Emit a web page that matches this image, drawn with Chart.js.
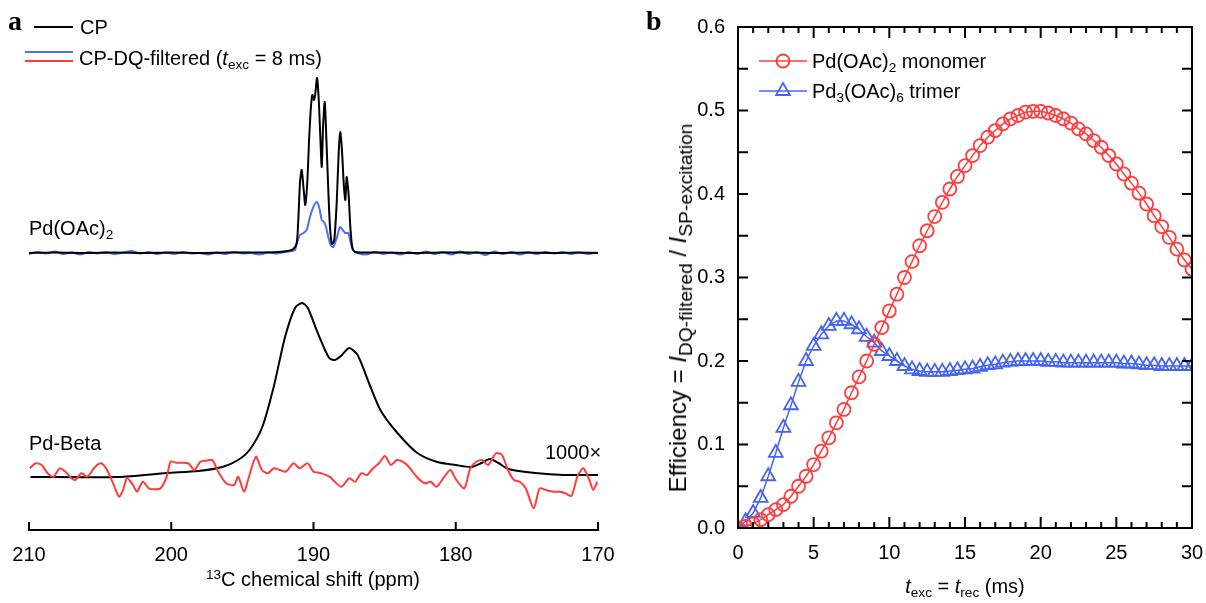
<!DOCTYPE html>
<html>
<head>
<meta charset="utf-8">
<script src="https://cdn.jsdelivr.net/npm/chart.js@4.4.0/dist/chart.umd.min.js"></script>
<style>
  body { margin: 0; background: #fff; }
  #wrap { position: relative; width: 1206px; height: 603px; overflow: hidden;
          font-family: "Liberation Sans", Arial, sans-serif; font-size: 20px; color: #000; }
  canvas { position: absolute; top: 0; }
  .lbl { position: absolute; white-space: nowrap; line-height: 20px; }
  .lbl sub { font-size: 0.68em; vertical-align: -0.3em; line-height: 0; }
  .lbl sup { font-size: 0.68em; vertical-align: 0.55em; line-height: 0; }
  .ytitle { font-size: 24px; line-height: 24px; }
  .ytitle sub { font-size: 0.8em; }
  .panel { position: absolute; font-family: "Liberation Serif", "Times New Roman", serif;
           font-weight: bold; font-size: 28px; line-height: 28px; }
  .bar { position: absolute; height: 2px; }
</style>
</head>
<body>
<div id="wrap">
  <canvas id="spectra" width="620" height="603" style="left:0"></canvas>
  <canvas id="efficiency" width="586" height="603" style="left:620px"></canvas>

  <!-- panel a labels -->
  <div class="panel" style="left:8px;top:7px">a</div>
  <div class="bar" style="left:34px;top:26px;width:39px;background:#000"></div>
  <div class="lbl" style="left:80px;top:17px">CP</div>
  <div class="bar" style="left:25px;top:51px;width:48px;background:#4f6ef7"></div>
  <div class="bar" style="left:25px;top:60px;width:48px;background:#ff3c3c"></div>
  <div class="lbl" style="left:79px;top:48px">CP-DQ-filtered (<i>t</i><sub>exc</sub> = 8 ms)</div>
  <div class="lbl" style="left:29px;top:218px">Pd(OAc)<sub>2</sub></div>
  <div class="lbl" style="left:29px;top:433px">Pd-Beta</div>
  <div class="lbl" style="left:545px;top:442px">1000×</div>
  <div class="lbl" style="left:113px;top:569px;width:400px;text-align:center"><sup>13</sup>C chemical shift (ppm)</div>

  <!-- panel b labels -->
  <div class="panel" style="left:646px;top:7px">b</div>
  <svg style="position:absolute;left:757px;top:51px" width="52" height="20">
    <line x1="2" y1="10" x2="50" y2="10" stroke="#ff3c3c" stroke-width="1.5"/>
    <circle cx="26" cy="10" r="6.5" fill="none" stroke="#ff3c3c" stroke-width="1.8"/>
  </svg>
  <div class="lbl" style="left:812px;top:51px">Pd(OAc)<sub>2</sub> monomer</div>
  <svg style="position:absolute;left:757px;top:81px" width="52" height="20">
    <line x1="2" y1="10" x2="50" y2="10" stroke="#4664f0" stroke-width="1.5"/>
    <polygon points="26,2 32.9,14 19.1,14" fill="none" stroke="#4664f0" stroke-width="1.8"/>
  </svg>
  <div class="lbl" style="left:812px;top:81px">Pd<sub>3</sub>(OAc)<sub>6</sub> trimer</div>
  <div class="lbl ytitle" style="left:678px;top:308px;transform:translate(-50%,-50%) rotate(-90deg)">Efficiency = <i>I</i><sub>DQ-filtered</sub> / <i>I</i><sub>SP-excitation</sub></div>
  <div class="lbl" style="left:765px;top:576px;width:400px;text-align:center"><i>t</i><sub>exc</sub> = <i>t</i><sub>rec</sub> (ms)</div>
</div>

<script>
// ---------- panel a : 13C spectra (ppm, stacked intensity in arbitrary units) ----------
const pdOAcCpPpm = [210, 208, 206, 204, 202, 200, 198, 196, 194, 192.5, 191.8, 191.42, 191.18, 191.07, 190.95,
  190.83, 190.67, 190.58, 190.44, 190.30, 190.18, 190.08, 189.96, 189.87, 189.75, 189.63, 189.52, 189.42,
  189.33, 189.21, 189.10, 188.96, 188.84, 188.70, 188.54, 188.37, 188.23, 188.12, 188.00, 187.86, 187.76,
  187.67, 187.53, 187.41, 187.27, 187.08, 186.5, 185, 183, 181, 179, 177, 175, 173, 171.5, 170];
const pdOAcCpInt = [277, 277.5, 277, 277.5, 277, 277.5, 277, 277.5, 277.5, 278, 279, 281, 287, 310, 347,
  360, 337, 325, 347, 393, 423, 435, 430, 437, 452, 430, 393, 363,
  403, 428, 393, 340, 303, 286, 290, 327, 377, 398, 380, 343, 330,
  353, 335, 303, 282, 278, 277.5, 277.5, 277, 277.5, 277.5, 277, 277.5, 277, 277.5, 277];

const pdOAcDqPpm = [210, 209.4, 208.8, 208.2, 207.6, 207, 206.4, 205.8, 205.2, 204.6, 204, 203.4, 202.8, 202.2,
  201.6, 201, 200.4, 199.8, 199.2, 198.6, 198, 197.4, 196.8, 196.2, 195.6, 195, 194.4, 193.8, 193.2, 192.6,
  192, 191.5, 191.3, 191.16, 190.95, 190.72, 190.48, 190.25, 190.01, 189.78, 189.59, 189.42, 189.26, 189.12,
  188.96, 188.79, 188.61, 188.37, 188.14, 187.95, 187.76, 187.55, 187.38, 187.2, 186.9, 186.3, 185.7, 185.1,
  184.5, 183.9, 183.3, 182.7, 182.1, 181.5, 180.9, 180.3, 179.7, 179.1, 178.5, 177.9, 177.3, 176.7, 176.1,
  175.5, 174.9, 174.3, 173.7, 173.1, 172.5, 171.9, 171.3, 170.7, 170.1];
const pdOAcDqInt = [276, 278, 276.5, 278.5, 276, 277.5, 275.5, 278, 276.5, 278, 276, 277.5, 279, 276.5,
  278, 276, 277.5, 276, 278, 276.5, 277, 275.5, 277.5, 276, 278, 276.5, 277, 275.5, 277.5, 276.5,
  278, 279, 280, 287, 295, 296.7, 300, 313, 323, 328, 322, 310, 308, 303,
  293, 285, 283, 292, 303, 300, 297, 297, 287, 280, 277, 275.5, 278, 276,
  277.5, 275.5, 278, 276, 278.5, 276, 278, 275.5, 278.5, 276, 278, 275, 278.5, 276, 278,
  275.5, 277.5, 276, 278, 276.5, 278, 276, 277.5, 276, 277.5];

const pdBetaCpPpm = [209.9, 203.7, 200.3, 198.1, 196.4, 195.3, 194.5, 193.6, 192.8, 192.0, 191.3, 190.8, 190.4,
  189.7, 188.9, 188.5, 188.0, 187.5, 186.9, 186.1, 185.3, 184.1, 182.7, 181.3, 180.0, 178.9, 178.2, 177.6,
  177.0, 176.3, 174.4, 172.4, 170.0];
const pdBetaCpInt = [53, 53, 57, 59, 63, 70, 80, 103, 143, 193, 222, 227, 222,
  197, 172, 170, 175, 182, 175, 147, 120, 97, 77, 68, 65, 63, 67, 71,
  67, 61, 57, 55, 55];

const pdBetaDqPpm = [209.95, 209.53, 209.11, 208.69, 208.27, 207.85, 207.44, 207.02, 206.74, 206.32,
  205.90, 205.34, 204.93, 204.51, 204.09, 203.67, 203.39, 203.11, 202.69, 202.41,
  202.00, 201.58, 201.16, 200.74, 200.32, 200.04, 199.62, 199.21, 198.79, 198.37,
  197.95, 197.53, 197.11, 196.70, 196.14, 195.58, 195.30, 194.88, 194.60, 194.05,
  193.63, 193.21, 192.79, 192.37, 191.95, 191.40, 190.98, 190.42, 190.00, 189.58,
  188.88, 188.05, 187.49, 187.07, 186.65, 186.24, 185.82, 185.40, 184.98, 184.56,
  184.14, 183.73, 183.31, 182.75, 182.19, 181.77, 181.35, 180.80, 180.38, 179.96,
  179.40, 178.98, 178.56, 178.15, 177.73, 177.17, 176.75, 176.33, 175.91, 175.50,
  175.08, 174.52, 174.10, 173.68, 173.12, 172.70, 172.29, 171.87, 171.45, 171.03,
  170.61, 170.33, 170.05];
const pdBetaDqInt = [61.7, 66.7, 65, 56.7, 53.3, 61.7, 58.3, 51.7, 50, 56.7,
  53.3, 63.3, 66.7, 60, 46.7, 33.3, 40, 51.7, 45, 38.3,
  48.3, 41.7, 40.7, 41.7, 53.3, 68.3, 67.3, 67.3, 66.7, 60,
  68.3, 69.3, 70, 58.3, 46.7, 45, 53.3, 38.3, 50, 73.3,
  60, 56.7, 61.7, 60, 58.3, 66.7, 61.7, 66.7, 58.3, 57.3,
  53.3, 43.3, 51.7, 48.3, 56.7, 55, 61.7, 66.7, 74, 65,
  70, 68.3, 63.3, 53.3, 46.7, 48.3, 43.3, 53.3, 60, 50,
  41.7, 61.7, 68.3, 70, 65, 76.7, 75, 60, 50, 48.3,
  41.7, 21.7, 41.7, 40, 38.3, 38.3, 36.7, 34, 53.3, 61.7,
  50, 40, 48.3];

const shiftTicks = [210, 200, 190, 180, 170];

// ---------- panel b : DQ efficiency vs excitation time ----------
const tExc = [0, 0.5, 1, 1.5, 2, 2.5, 3, 3.5, 4, 4.5, 5, 5.5, 6, 6.5, 7, 7.5, 8, 8.5, 9, 9.5,
  10, 10.5, 11, 11.5, 12, 12.5, 13, 13.5, 14, 14.5, 15, 15.5, 16, 16.5, 17, 17.5, 18, 18.5, 19, 19.5,
  20, 20.5, 21, 21.5, 22, 22.5, 23, 23.5, 24, 24.5, 25, 25.5, 26, 26.5, 27, 27.5, 28, 28.5, 29, 29.5, 30];
const monomerEff = [0, 0.002, 0.005, 0.010, 0.016, 0.022, 0.028, 0.038, 0.050, 0.062,
  0.076, 0.092, 0.108, 0.126, 0.142, 0.162, 0.181, 0.200, 0.220, 0.240,
  0.260, 0.280, 0.300, 0.319, 0.338, 0.356, 0.373, 0.390, 0.406, 0.421,
  0.434, 0.446, 0.458, 0.468, 0.476, 0.484, 0.490, 0.494, 0.498, 0.499,
  0.499, 0.497, 0.494, 0.490, 0.485, 0.478, 0.472, 0.464, 0.456, 0.446,
  0.436, 0.424, 0.413, 0.401, 0.388, 0.374, 0.361, 0.348, 0.334, 0.321, 0.310];
const trimerEff = [0, 0.008, 0.018, 0.036, 0.062, 0.090, 0.120, 0.147, 0.175, 0.200,
  0.218, 0.232, 0.242, 0.248, 0.248, 0.244, 0.238, 0.229, 0.222, 0.212,
  0.206, 0.200, 0.194, 0.190, 0.188, 0.187, 0.187, 0.187, 0.188, 0.189,
  0.190, 0.191, 0.193, 0.195, 0.196, 0.198, 0.199, 0.200, 0.200, 0.200,
  0.200, 0.199, 0.199, 0.198, 0.198, 0.198, 0.198, 0.198, 0.198, 0.198,
  0.198, 0.197, 0.197, 0.196, 0.195, 0.195, 0.194, 0.194, 0.194, 0.194, 0.194];

const BLACK = '#000000';
const BLUE_A = '#4f6ef7';
const RED = '#ff3c3c';
const BLUE_B = '#4664f0';
const FONT = { family: '"Liberation Sans", Arial, sans-serif', size: 20 };

function pairs(xs, ys) {
  return xs.map((x, i) => ({ x, y: ys[i] }));
}

function spectrum(data, color, order) {
  return {
    data, order,
    showLine: true,
    borderColor: color,
    borderWidth: 2,
    pointRadius: 0,
    tension: 0.25
  };
}

// keep edge tick labels from shrinking the plot area
function fixHeight(h) {
  return s => { s.height = h; s.paddingLeft = 0; s.paddingRight = 0; };
}

// inward ticks + bottom axis line for the spectrum panel
const shiftAxis = {
  id: 'shiftAxis',
  afterDatasetsDraw(chart) {
    const { ctx, chartArea: a, scales: { x } } = chart;
    ctx.save();
    ctx.strokeStyle = BLACK;
    ctx.lineWidth = 2;
    ctx.beginPath();
    ctx.moveTo(a.left - 1, a.bottom);
    ctx.lineTo(a.right + 1, a.bottom);
    x.ticks.forEach(t => {
      const px = x.getPixelForValue(t.value);
      ctx.moveTo(px, a.bottom);
      ctx.lineTo(px, a.bottom - 8);
    });
    ctx.stroke();
    ctx.restore();
  }
};

// box frame with inward ticks on all four sides
const boxFrame = {
  id: 'boxFrame',
  afterDatasetsDraw(chart) {
    const { ctx, chartArea: a, scales: { x, y } } = chart;
    ctx.save();
    ctx.strokeStyle = BLACK;
    ctx.lineWidth = 2;
    ctx.strokeRect(a.left, a.top, a.right - a.left, a.bottom - a.top);
    ctx.beginPath();
    x.ticks.forEach(t => {
      const px = x.getPixelForValue(t.value);
      const len = t.value % 5 === 0 ? 11 : 6;
      ctx.moveTo(px, a.bottom); ctx.lineTo(px, a.bottom - len);
      ctx.moveTo(px, a.top); ctx.lineTo(px, a.top + len);
    });
    y.ticks.forEach(t => {
      const py = y.getPixelForValue(t.value);
      ctx.moveTo(a.left, py); ctx.lineTo(a.left + 10, py);
      ctx.moveTo(a.right, py); ctx.lineTo(a.right - 10, py);
    });
    ctx.stroke();
    ctx.restore();
  }
};

new Chart(document.getElementById('spectra'), {
  type: 'scatter',
  data: {
    datasets: [
      spectrum(pairs(pdOAcDqPpm, pdOAcDqInt), BLUE_A, 3),
      spectrum(pairs(pdOAcCpPpm, pdOAcCpInt), BLACK, 2),
      spectrum(pairs(pdBetaCpPpm, pdBetaCpInt), BLACK, 1),
      spectrum(pairs(pdBetaDqPpm, pdBetaDqInt), RED, 0)
    ]
  },
  options: {
    responsive: false,
    animation: false,
    layout: { padding: { left: 29, right: 22, top: 70, bottom: 0 } },
    plugins: { legend: { display: false }, tooltip: { enabled: false } },
    scales: {
      x: {
        type: 'linear', min: 170, max: 210, reverse: true,
        grid: { display: false, drawTicks: false },
        border: { display: false },
        afterBuildTicks: s => { s.ticks = shiftTicks.map(v => ({ value: v })); },
        ticks: { color: BLACK, font: FONT, padding: 13, maxRotation: 0, autoSkip: false },
        afterFit: fixHeight(73)
      },
      y: { display: false, min: 0, max: 460 }
    }
  },
  plugins: [shiftAxis]
});

new Chart(document.getElementById('efficiency'), {
  type: 'scatter',
  data: {
    datasets: [
      {
        label: 'Pd(OAc)2 monomer',
        data: pairs(tExc, monomerEff),
        order: 0,
        showLine: true,
        borderColor: RED,
        borderWidth: 1.5,
        pointStyle: 'circle',
        pointRadius: 6.5,
        pointBorderWidth: 1.8,
        pointBorderColor: RED,
        pointBackgroundColor: 'rgba(0,0,0,0)'
      },
      {
        label: 'Pd3(OAc)6 trimer',
        data: pairs(tExc, trimerEff),
        order: 1,
        showLine: true,
        borderColor: BLUE_B,
        borderWidth: 1.5,
        pointStyle: 'triangle',
        pointRadius: 8,
        pointBorderWidth: 1.8,
        pointBorderColor: BLUE_B,
        pointBackgroundColor: 'rgba(0,0,0,0)'
      }
    ]
  },
  options: {
    responsive: false,
    animation: false,
    layout: { padding: { left: 0, right: 14, top: 27, bottom: 0 } },
    plugins: { legend: { display: false }, tooltip: { enabled: false } },
    scales: {
      x: {
        type: 'linear', min: 0, max: 30,
        grid: { display: false, drawTicks: false },
        border: { display: false },
        ticks: {
          stepSize: 1, autoSkip: false, maxRotation: 0, color: BLACK, font: FONT, padding: 13,
          callback: v => (v % 5 === 0 ? String(v) : '')
        },
        afterFit: fixHeight(75)
      },
      y: {
        type: 'linear', min: 0, max: 0.6,
        grid: { display: false, drawTicks: false },
        border: { display: false },
        ticks: {
          stepSize: 0.05, autoSkip: false, color: BLACK, font: FONT, padding: 13,
          callback: v => (Math.abs(v * 10 - Math.round(v * 10)) < 1e-6 ? v.toFixed(1) : '')
        },
        afterFit: s => { s.width = 118; }
      }
    }
  },
  plugins: [boxFrame]
});
</script>
</body>
</html>
